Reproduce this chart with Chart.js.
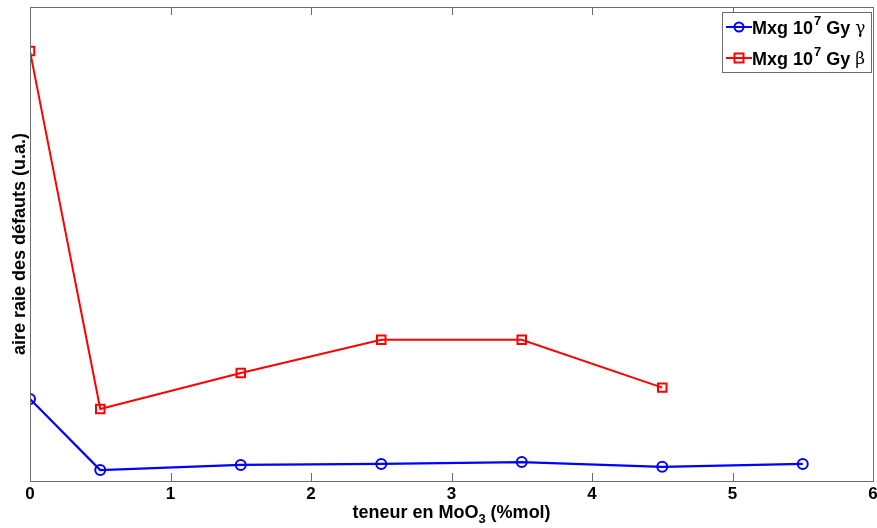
<!DOCTYPE html>
<html>
<head>
<meta charset="utf-8">
<script src="https://cdn.jsdelivr.net/npm/chart.js@4.4.0/dist/chart.umd.min.js"></script>
<style>
  html, body { margin: 0; padding: 0; background: #fff; }
  #wrap { width: 877px; height: 528px; position: relative; }
</style>
</head>
<body>
<div id="wrap"><canvas id="chart"></canvas></div>
<script>
// data (y in arbitrary units, no y labels shown)
const xGamma = [0, 0.5, 1.5, 2.5, 3.5, 4.5, 5.5];
const yGamma = [17.3, 2.3, 3.4, 3.6, 4.0, 3.0, 3.6];
const xBeta = [0, 0.5, 1.5, 2.5, 3.5, 4.5];
const yBeta = [90.7, 15.2, 22.8, 29.8, 29.8, 19.7];
const xTicks = [0, 1, 2, 3, 4, 5, 6];
const legendNames = [['Mxg 10', '7', ' Gy ', 'γ'], ['Mxg 10', '7', ' Gy ', 'β']];
const xTitle = ['teneur en MoO', '3', ' (%mol)'];

const blue = '#0000ff';
const red = '#ff0000';
const axisGray = '#6b6b6b';
const FONT = '"Liberation Sans", Arial, sans-serif';

const toPts = (xs, ys) => xs.map((x, i) => ({ x: x, y: ys[i] }));

// matlab style inward ticks on top & bottom + box, x title with subscript
const boxTicks = {
    id: 'boxTicks',
    afterDraw(chart) {
        const c = chart.ctx, a = chart.chartArea, xs = chart.scales.x;
        c.save();
        c.strokeStyle = axisGray;
        c.lineWidth = 1;
        c.strokeRect(Math.round(a.left) + 0.5, Math.round(a.top) + 0.5,
            Math.round(a.right - a.left), Math.round(a.bottom - a.top));
        c.beginPath();
        xTicks.forEach(t => {
            const px = Math.round(xs.getPixelForValue(t)) + 0.5;
            c.moveTo(px, a.bottom); c.lineTo(px, a.bottom - 8);
            c.moveTo(px, a.top); c.lineTo(px, a.top + 8);
        });
        c.stroke();

        // x title
        c.fillStyle = '#000';
        c.textBaseline = 'alphabetic';
        const big = 'bold 18px ' + FONT, small = 'bold 13px ' + FONT;
        c.font = big; const w0 = c.measureText(xTitle[0]).width, w2 = c.measureText(xTitle[2]).width;
        c.font = small; const w1 = c.measureText(xTitle[1]).width;
        let tx = (a.left + a.right) / 2 - (w0 + w1 + w2) / 2;
        const by = 518;
        c.font = big; c.fillText(xTitle[0], tx, by); tx += w0;
        c.font = small; c.fillText(xTitle[1], tx, by + 5); tx += w1;
        c.font = big; c.fillText(xTitle[2], tx, by);
        c.restore();
    }
};

// legend box in the top right corner
const boxLegend = {
    id: 'boxLegend',
    afterDraw(chart) {
        const c = chart.ctx, a = chart.chartArea;
        const w = 149, h = 60;
        const x0 = Math.round(a.right) - 2 - w, y0 = Math.round(a.top) + 5;
        c.save();
        c.fillStyle = '#fff';
        c.fillRect(x0, y0, w, h);
        c.strokeStyle = axisGray;
        c.lineWidth = 1;
        c.strokeRect(x0 + 0.5, y0 + 0.5, w, h);
        chart.data.datasets.forEach((ds, i) => {
            const yy = y0 + 15 + i * 31;
            c.strokeStyle = ds.borderColor;
            c.lineWidth = 2;
            c.beginPath();
            c.moveTo(x0 + 4, yy); c.lineTo(x0 + 30, yy);
            c.stroke();
            if (ds.pointStyle === 'circle') {
                c.beginPath(); c.arc(x0 + 17, yy, 4.5, 0, Math.PI * 2); c.stroke();
            } else {
                c.strokeRect(x0 + 12.5, yy - 4.5, 9, 9);
            }
            const parts = legendNames[i];
            let tx = x0 + 30;
            c.fillStyle = '#000';
            c.textBaseline = 'middle';
            c.font = 'bold 18px ' + FONT;
            c.fillText(parts[0], tx, yy + 2); tx += c.measureText(parts[0]).width + 1;
            c.font = 'bold 13px ' + FONT;
            c.fillText(parts[1], tx, yy - 6); tx += c.measureText(parts[1]).width;
            c.font = 'bold 18px ' + FONT;
            c.fillText(parts[2], tx, yy + 2); tx += c.measureText(parts[2]).width;
            c.font = '17px "DejaVu Serif", serif';
            c.fillText(parts[3], tx, yy + 2);
        });
        c.restore();
    }
};

new Chart(document.getElementById('chart'), {
    type: 'line',
    data: {
        datasets: [
            {
                label: 'Mxg 10^7 Gy γ',
                data: toPts(xGamma, yGamma),
                borderColor: blue,
                borderWidth: 2.2,
                pointStyle: 'circle',
                pointRadius: 5,
                pointBorderWidth: 2,
                pointBackgroundColor: 'rgba(0,0,0,0)',
                pointBorderColor: blue,
                tension: 0
            },
            {
                label: 'Mxg 10^7 Gy β',
                data: toPts(xBeta, yBeta),
                borderColor: red,
                borderWidth: 2,
                pointStyle: 'rect',
                pointRadius: 6,
                pointBorderWidth: 2,
                pointBackgroundColor: 'rgba(0,0,0,0)',
                pointBorderColor: red,
                tension: 0
            }
        ]
    },
    options: {
        responsive: true,
        maintainAspectRatio: false,
        animation: false,
        layout: { autoPadding: false, padding: { top: 7, right: 4, left: 0, bottom: 0 } },
        plugins: {
            legend: { display: false },
            tooltip: { enabled: false }
        },
        scales: {
            x: {
                type: 'linear',
                min: 0, max: 6,
                afterBuildTicks: s => { s.ticks = xTicks.map(v => ({ value: v })); },
                afterFit: s => { s.height = 47; s.paddingRight = 0; s.paddingLeft = 0; },
                grid: { display: false, drawTicks: false, tickLength: 0 },
                border: { display: false },
                ticks: {
                    color: '#000',
                    font: { family: FONT, size: 17, weight: 'bold' },
                    padding: 3,
                    maxRotation: 0
                },
                title: { display: false }
            },
            y: {
                min: 0, max: 100,
                afterFit: s => { s.width = 30; },
                grid: { display: false },
                border: { display: false },
                ticks: { display: false },
                title: {
                    display: true,
                    text: 'aire raie des défauts (u.a.)',
                    color: '#000',
                    font: { family: FONT, size: 18, weight: 'bold' },
                    padding: { top: 9, bottom: 0 }
                }
            }
        }
    },
    plugins: [boxTicks, boxLegend]
});
</script>
</body>
</html>
